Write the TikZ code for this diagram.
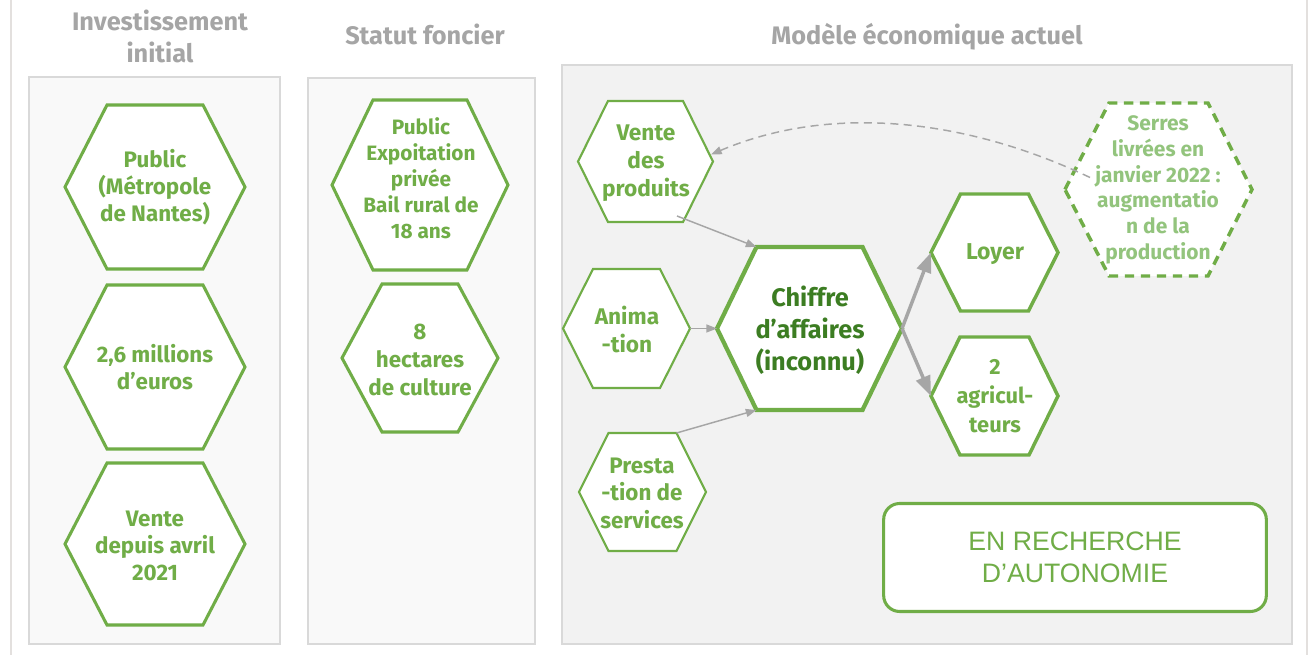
\documentclass[tikz,border=0pt]{standalone}
\usepackage{fontspec}
\setmainfont{Fira Sans}
\newfontfamily\arialf{Liberation Sans}
\usetikzlibrary{arrows.meta,calc}
\definecolor{grn}{HTML}{70AD47}
\definecolor{dgrn}{HTML}{3C7D22}
\definecolor{lgrn}{HTML}{93C47D}
\definecolor{hgray}{HTML}{A5A5A5}
\definecolor{agray}{HTML}{A6A6A6}
\definecolor{pgray}{HTML}{D9D9D9}
\definecolor{lgray}{HTML}{E3E0DE}
\definecolor{pfillA}{HTML}{F9F9F9}
\definecolor{pfillB}{HTML}{F2F2F2}
% hexagon: [style]{name}{cx}{cy}{half width}{half height}{half top edge}
\newcommand\hexshape[7][]{%
  \coordinate (#2-l)  at ({#3-#5},{#4});
  \coordinate (#2-tl) at ({#3-#7},{#4-#6});
  \coordinate (#2-tr) at ({#3+#7},{#4-#6});
  \coordinate (#2-r)  at ({#3+#5},{#4});
  \coordinate (#2-br) at ({#3+#7},{#4+#6});
  \coordinate (#2-bl) at ({#3-#7},{#4+#6});
  \draw[#1] (#2-l) -- (#2-tl) -- (#2-tr) -- (#2-r) -- (#2-br) -- (#2-bl) -- cycle;}
\begin{document}
\begin{tikzpicture}[x=0.75pt,y=-0.75pt,
  panel/.style={draw=pgray,line width=1.5pt},
  hexb/.style={draw=grn,fill=white,line width=2.3pt,line join=miter},
  hexthin/.style={hexb,line width=1.6pt},
  hexthick/.style={hexb,line width=3.2pt},
  hexdash/.style={hexb,line width=2.6pt,dash pattern=on 7pt off 5pt},
  txt/.style={text=grn,align=center,inner sep=0pt,font=\bfseries\fontsize{16.8}{20.2}\selectfont},
  hdr/.style={text=hgray,align=center,inner sep=0pt,font=\bfseries\fontsize{19}{24}\selectfont},
  thinarrow/.style={draw=agray,line width=1.1pt,-{Triangle[length=8pt,width=6pt]}},
  thickarrow/.style={draw=agray,line width=2.6pt,-{Triangle[length=15pt,width=11pt]}},
  dasharrow/.style={draw=agray,line width=1.1pt,dash pattern=on 6pt off 4pt,-{Triangle[length=8pt,width=6pt]}},
  goal/.style={draw=grn,line width=2.3pt,rounded corners=12pt,fill=white,
    minimum width=287pt,minimum height=81pt,text=grn,align=center,
    font=\arialf\fontsize{20}{24}\selectfont}
]
\useasboundingbox (0,0) rectangle (1311,655);
\fill[white] (0,0) rectangle (1311,655);
\draw[lgray,line width=1.2pt] (11,0) -- (11,655);
\draw[lgray,line width=1.2pt] (1307,0) -- (1307,655);

% panels
\draw[panel,fill=pfillA] (29,77) rectangle (280,644);
\draw[panel,fill=pfillA] (308,78) rectangle (535,644);
\draw[panel,fill=pfillB] (562,65) rectangle (1292,644);

% headers
\node[hdr] (h1) at (160,36) {Investissement\\initial};
\node[hdr] (h2) at (425,34) {Statut foncier};
\node[hdr] (h3) at (927,37) {Modèle économique actuel};

% panel 1
\hexshape[hexb]{A}{155}{187}{90}{82}{48}
\node[txt] (a) at (155,187) {Public\\(Métropole\\de Nantes)};
\hexshape[hexb]{B}{155}{367}{90}{82}{48}
\node[txt] (b) at (155,367) {2,6 millions\\d’euros};
\hexshape[hexb]{C}{155}{544}{90}{81}{48}
\node[txt] (c) at (155,546) {Vente\\depuis avril\\2021};

% panel 2
\hexshape[hexb]{D}{420}{185}{88}{85}{47}
\node[txt,font=\bfseries\fontsize{15.6}{19.5}\selectfont] (d) at (421,178) {Public\\Expoitation\\privée\\Bail rural de\\18 ans};
\hexshape[hexb]{E}{420}{358}{78}{74}{38}
\node[txt,font=\bfseries\fontsize{16.8}{21}\selectfont] (e) at (420,360) {8\\hectares\\de culture};

% panel 3
\hexshape[hexthin]{F}{645.5}{161.5}{67.5}{60.5}{37.5}
\node[txt,font=\bfseries\fontsize{17}{21.2}\selectfont] (f) at (646,163) {Vente\\des\\produits};
\hexshape[hexthin]{G}{626.5}{328.5}{63.5}{59.5}{33.5}
\node[txt,font=\bfseries\fontsize{17}{21}\selectfont] (g) at (627,330) {Anima\\-tion};
\hexshape[hexthin]{H}{642.5}{492}{63.5}{59}{34}
\node[txt,font=\bfseries\fontsize{16.8}{20.6}\selectfont] (h) at (642,493) {Presta\\-tion de\\services};
\hexshape[hexthick]{I}{809.5}{328.5}{92.5}{81.5}{53}
\node[txt,text=dgrn,font=\bfseries\fontsize{19}{24}\selectfont] (i) at (810,330) {Chiffre\\d’affaires\\(inconnu)};
\hexshape[hexb,line width=2.6pt]{J}{994.5}{252.5}{63.5}{58.5}{34}
\node[txt,font=\bfseries\fontsize{17.2}{20}\selectfont] (j) at (995,254) {Loyer};
\hexshape[hexb,line width=2.6pt]{K}{994.5}{396}{63.5}{59}{34.5}
\node[txt,font=\bfseries\fontsize{16.4}{21.5}\selectfont] (k) at (995,396) {2\\agricul-\\teurs};
\hexshape[hexdash]{L}{1158.5}{189.5}{93.5}{86.5}{49.5}
\node[txt,text=lgrn,font=\bfseries\fontsize{15.7}{19.3}\selectfont] (l) at (1158,190) {Serres\\livrées en\\janvier 2022 :\\augmentatio\\n de la\\production};

% goal box
\node[goal] (goalbox) at (1075,557.5) {EN RECHERCHE\\D’AUTONOMIE};

% connectors
\coordinate (fstart) at ($(F-br)+(-6,-6)$);
\draw[thinarrow] (fstart) -- (I-tl);
\draw[thinarrow] (G-r) -- (I-l);
\draw[thinarrow] (H-tr) -- (I-bl);
\draw[thickarrow] (I-r) -- (J-l);
\draw[thickarrow] (I-r) -- (K-l);
\coordinate (lstart) at ($(L-l)+(25,-12)$);
\coordinate (fend) at ($(F-r)+(-2,-7)$);
\draw[dasharrow] (lstart) .. controls (965,118) and (830,104) .. (fend);
\end{tikzpicture}
\end{document}
